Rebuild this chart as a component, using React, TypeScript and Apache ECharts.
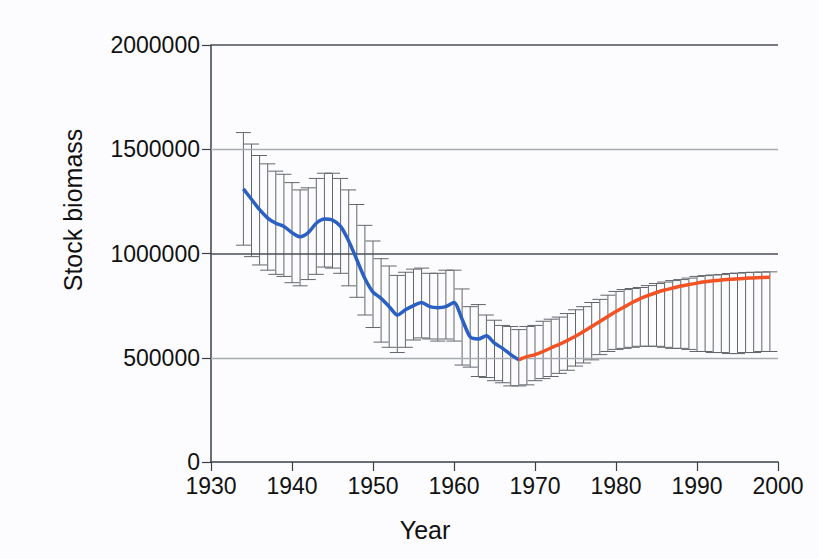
import React, { useEffect, useRef } from "react";
import * as echarts from "echarts";

const blueYears = [1934,1935,1936,1937,1938,1939,1940,1941,1942,1943,1944,1945,1946,1947,1948,1949,1950,1951,1952,1953,1954,1955,1956,1957,1958,1959,1960,1961,1962,1963,1964,1965,1966,1967,1968];
const blueValues = [1310000,1260000,1210000,1170000,1145000,1130000,1100000,1080000,1100000,1145000,1165000,1160000,1130000,1060000,970000,880000,815000,785000,745000,705000,730000,750000,765000,745000,740000,745000,765000,685000,600000,590000,605000,570000,545000,515000,490000];

const redYears = [1968,1969,1970,1971,1972,1973,1974,1975,1976,1977,1978,1979,1980,1981,1982,1983,1984,1985,1986,1987,1988,1989,1990,1991,1992,1993,1994,1995,1996,1997,1998,1999];
const redValues = [490000,505000,515000,530000,548000,564000,583000,603000,626000,650000,674000,698000,722000,743000,765000,784000,799000,813000,825000,834000,844000,851000,858000,864000,869000,873000,876000,879000,881000,883000,885000,886000];

const barYears = [1934,1935,1936,1937,1938,1939,1940,1941,1942,1943,1944,1945,1946,1947,1948,1949,1950,1951,1952,1953,1954,1955,1956,1957,1958,1959,1960,1961,1962,1963,1964,1965,1966,1967,1968,1969,1970,1971,1972,1973,1974,1975,1976,1977,1978,1979,1980,1981,1982,1983,1984,1985,1986,1987,1988,1989,1990,1991,1992,1993,1994,1995,1996,1997,1998,1999];
const barHigh = [1580000,1525000,1470000,1430000,1395000,1380000,1340000,1305000,1315000,1360000,1385000,1385000,1360000,1305000,1235000,1135000,1060000,975000,940000,895000,910000,925000,930000,905000,905000,920000,920000,830000,745000,755000,705000,680000,655000,650000,635000,650000,655000,675000,685000,695000,712000,730000,745000,765000,780000,800000,818000,827000,832000,837000,846000,856000,863000,870000,875000,882000,890000,894000,897000,899000,904000,906000,909000,910000,911000,912000];
const barLow = [1040000,985000,945000,920000,900000,890000,860000,845000,875000,900000,935000,930000,905000,845000,790000,705000,645000,575000,550000,525000,550000,585000,595000,590000,580000,590000,580000,465000,455000,410000,405000,390000,380000,365000,365000,370000,390000,400000,410000,425000,440000,460000,475000,490000,515000,530000,540000,545000,550000,555000,555000,555000,550000,545000,545000,540000,530000,530000,525000,525000,520000,520000,525000,525000,530000,530000];

const yTicks = [0, 500000, 1000000, 1500000, 2000000];
const xTicks = [1930, 1940, 1950, 1960, 1970, 1980, 1990, 2000];

const FONT = "'Liberation Sans', Arial, sans-serif";

export default function App() {
  const ref = useRef<HTMLDivElement>(null);
  useEffect(() => {
    if (!ref.current) return;
    const chart = echarts.init(ref.current, null, { renderer: "svg" });
    const blue = blueYears.map((y, i) => [y, blueValues[i]]);
    const red = redYears.map((y, i) => [y, redValues[i]]);
    const bars = barYears.map((y, i) => [y, barLow[i], barHigh[i]]);
    const gridVals = yTicks.slice(1);
    chart.setOption({
      animation: false,
      backgroundColor: "#fcfcfe",
      grid: { left: 211, right: 41, top: 45, bottom: 97 },
      xAxis: {
        type: "value",
        min: xTicks[0],
        max: xTicks[xTicks.length - 1],
        interval: 10,
        axisLine: { show: true, onZero: false, lineStyle: { color: "#3a4048", width: 1.5 } },
        axisTick: { show: true, length: 9, lineStyle: { color: "#3a4048", width: 1.2 } },
        axisLabel: {
          color: "#111",
          fontSize: 23,
          fontFamily: FONT,
          margin: 12,
          formatter: (v: number) => String(v),
        },
        splitLine: { show: false },
      },
      yAxis: {
        type: "value",
        min: yTicks[0],
        max: yTicks[yTicks.length - 1],
        interval: 500000,
        axisLine: { show: true, lineStyle: { color: "#3a4048", width: 1.5 } },
        axisTick: { show: true, length: 9, lineStyle: { color: "#3a4048", width: 1.2 } },
        axisLabel: {
          color: "#111",
          fontSize: 23,
          fontFamily: FONT,
          margin: 11,
          formatter: (v: number) => String(v),
        },
        splitLine: { show: false },
      },
      graphic: [
        {
          type: "text",
          x: 73,
          y: 210,
          rotation: Math.PI / 2,
          style: {
            text: "Stock biomass",
            fontSize: 25,
            fontFamily: FONT,
            fill: "#111",
            align: "center",
            verticalAlign: "middle",
          },
        },
        {
          type: "text",
          x: 425,
          y: 530,
          style: {
            text: "Year",
            fontSize: 25,
            fontFamily: FONT,
            fill: "#111",
            align: "center",
            verticalAlign: "middle",
          },
        },
      ],
      series: [
        {
          type: "line",
          data: [],
          silent: true,
          markLine: {
            symbol: "none",
            silent: true,
            label: { show: false },
            data: gridVals.map((v, i) => ({
              yAxis: v,
              lineStyle: {
                color: i % 2 === 0 ? "#a8abb0" : "#4a4e54",
                width: i % 2 === 0 ? 1.3 : 1.5,
                type: "solid",
              },
            })),
          },
        },
        {
          type: "custom",
          silent: true,
          data: bars,
          z: 2,
          renderItem: (params: any, api: any) => {
            const x = api.value(0);
            const lo = api.coord([x, api.value(1)]);
            const hi = api.coord([x, api.value(2)]);
            const hw = 7.5;
            const st = { stroke: "#62666c", lineWidth: 1 };
            return {
              type: "group",
              children: [
                { type: "line", shape: { x1: lo[0], y1: lo[1], x2: hi[0], y2: hi[1] }, style: st },
                { type: "line", shape: { x1: lo[0] - hw, y1: lo[1], x2: lo[0] + hw, y2: lo[1] }, style: st },
                { type: "line", shape: { x1: hi[0] - hw, y1: hi[1], x2: hi[0] + hw, y2: hi[1] }, style: st },
              ],
            };
          },
        },
        {
          type: "line",
          data: blue,
          showSymbol: false,
          smooth: 0.25,
          z: 5,
          lineStyle: { color: "#2a5fc4", width: 3.5 },
        },
        {
          type: "line",
          data: red,
          showSymbol: false,
          smooth: 0.25,
          z: 5,
          lineStyle: { color: "#f25224", width: 3.5 },
        },
      ],
    });
    return () => chart.dispose();
  }, []);
  return (
    <div
      ref={ref}
      style={{ position: "fixed", left: 0, top: 0, width: 819, height: 559 }}
    />
  );
}
